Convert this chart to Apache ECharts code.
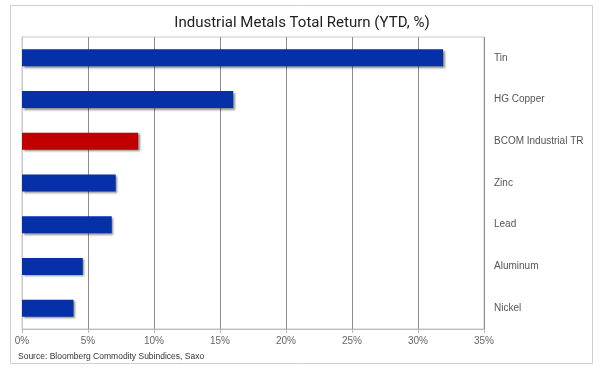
<!DOCTYPE html>
<html>
<head>
<meta charset="utf-8">
<script src="https://cdn.jsdelivr.net/npm/echarts@6/dist/echarts.min.js"></script>
<style>
  html, body { margin: 0; padding: 0; background: #fff; }
  #chart { width: 604px; height: 376px; }
</style>
</head>
<body>
<div id="chart"></div>
<script>
// categories, top to bottom
const metals = ['Tin', 'HG Copper', 'BCOM Industrial TR', 'Zinc', 'Lead', 'Aluminum', 'Nickel']
// YTD total return, %
const returns = [31.9, 16.0, 8.8, 7.1, 6.8, 4.6, 3.9]
const xTicks = [0, 5, 10, 15, 20, 25, 30, 35]
const highlight = 'BCOM Industrial TR'

const mychart = echarts.init(document.getElementById('chart'))

const option = {
  animation: false,
  title: {
    text: 'Industrial Metals Total Return (YTD, %)',
    left: 'center',
    top: 11,
    textStyle: {
      fontFamily: 'Roboto',
      fontWeight: 'normal',
      fontSize: 15,
      color: '#222'
    }
  },
  graphic: [
    {
      type: 'rect',
      shape: { x: 10.5, y: 5.5, width: 582, height: 358 },
      style: { fill: 'none', stroke: '#cfcfcf', lineWidth: 1 },
      z: -1
    },
    {
      type: 'text',
      left: 18,
      top: 352,
      style: {
        text: 'Source: Bloomberg Commodity Subindices, Saxo',
        fontFamily: 'Liberation Sans',
        fontSize: 8.5,
        fill: '#333'
      }
    }
  ],
  grid: {
    left: 22,
    right: 120,
    top: 37,
    bottom: 47,
    show: true,
    borderColor: '#c8c8c8',
    borderWidth: 1
  },
  xAxis: {
    type: 'value',
    min: xTicks[0],
    max: xTicks[xTicks.length - 1],
    interval: 5,
    axisLine: { show: true, lineStyle: { color: '#bbb' } },
    axisTick: { show: true, length: 4, lineStyle: { color: '#bbb' } },
    axisLabel: {
      formatter: v => v + '%',
      fontFamily: 'Liberation Sans',
      fontSize: 10,
      color: '#666',
      margin: 7
    },
    splitLine: { show: true, lineStyle: { color: '#8c8c8c' } }
  },
  yAxis: {
    type: 'category',
    data: metals,
    inverse: true,
    position: 'right',
    axisLine: { show: true, lineStyle: { color: '#c8c8c8' } },
    axisTick: { show: false },
    axisLabel: {
      fontFamily: 'Liberation Sans',
      fontSize: 10,
      color: '#555',
      margin: 10
    }
  },
  series: [{
    type: 'bar',
    data: returns.map((v, i) => ({
      value: v,
      itemStyle: { color: metals[i] === highlight ? '#c00000' : '#0530a8' }
    })),
    barWidth: 17,
    itemStyle: {
      shadowColor: 'rgba(0,0,0,0.45)',
      shadowBlur: 2,
      shadowOffsetX: 1.5,
      shadowOffsetY: 1.5
    }
  }]
}
mychart.setOption(option, true)
</script>
</body>
</html>
